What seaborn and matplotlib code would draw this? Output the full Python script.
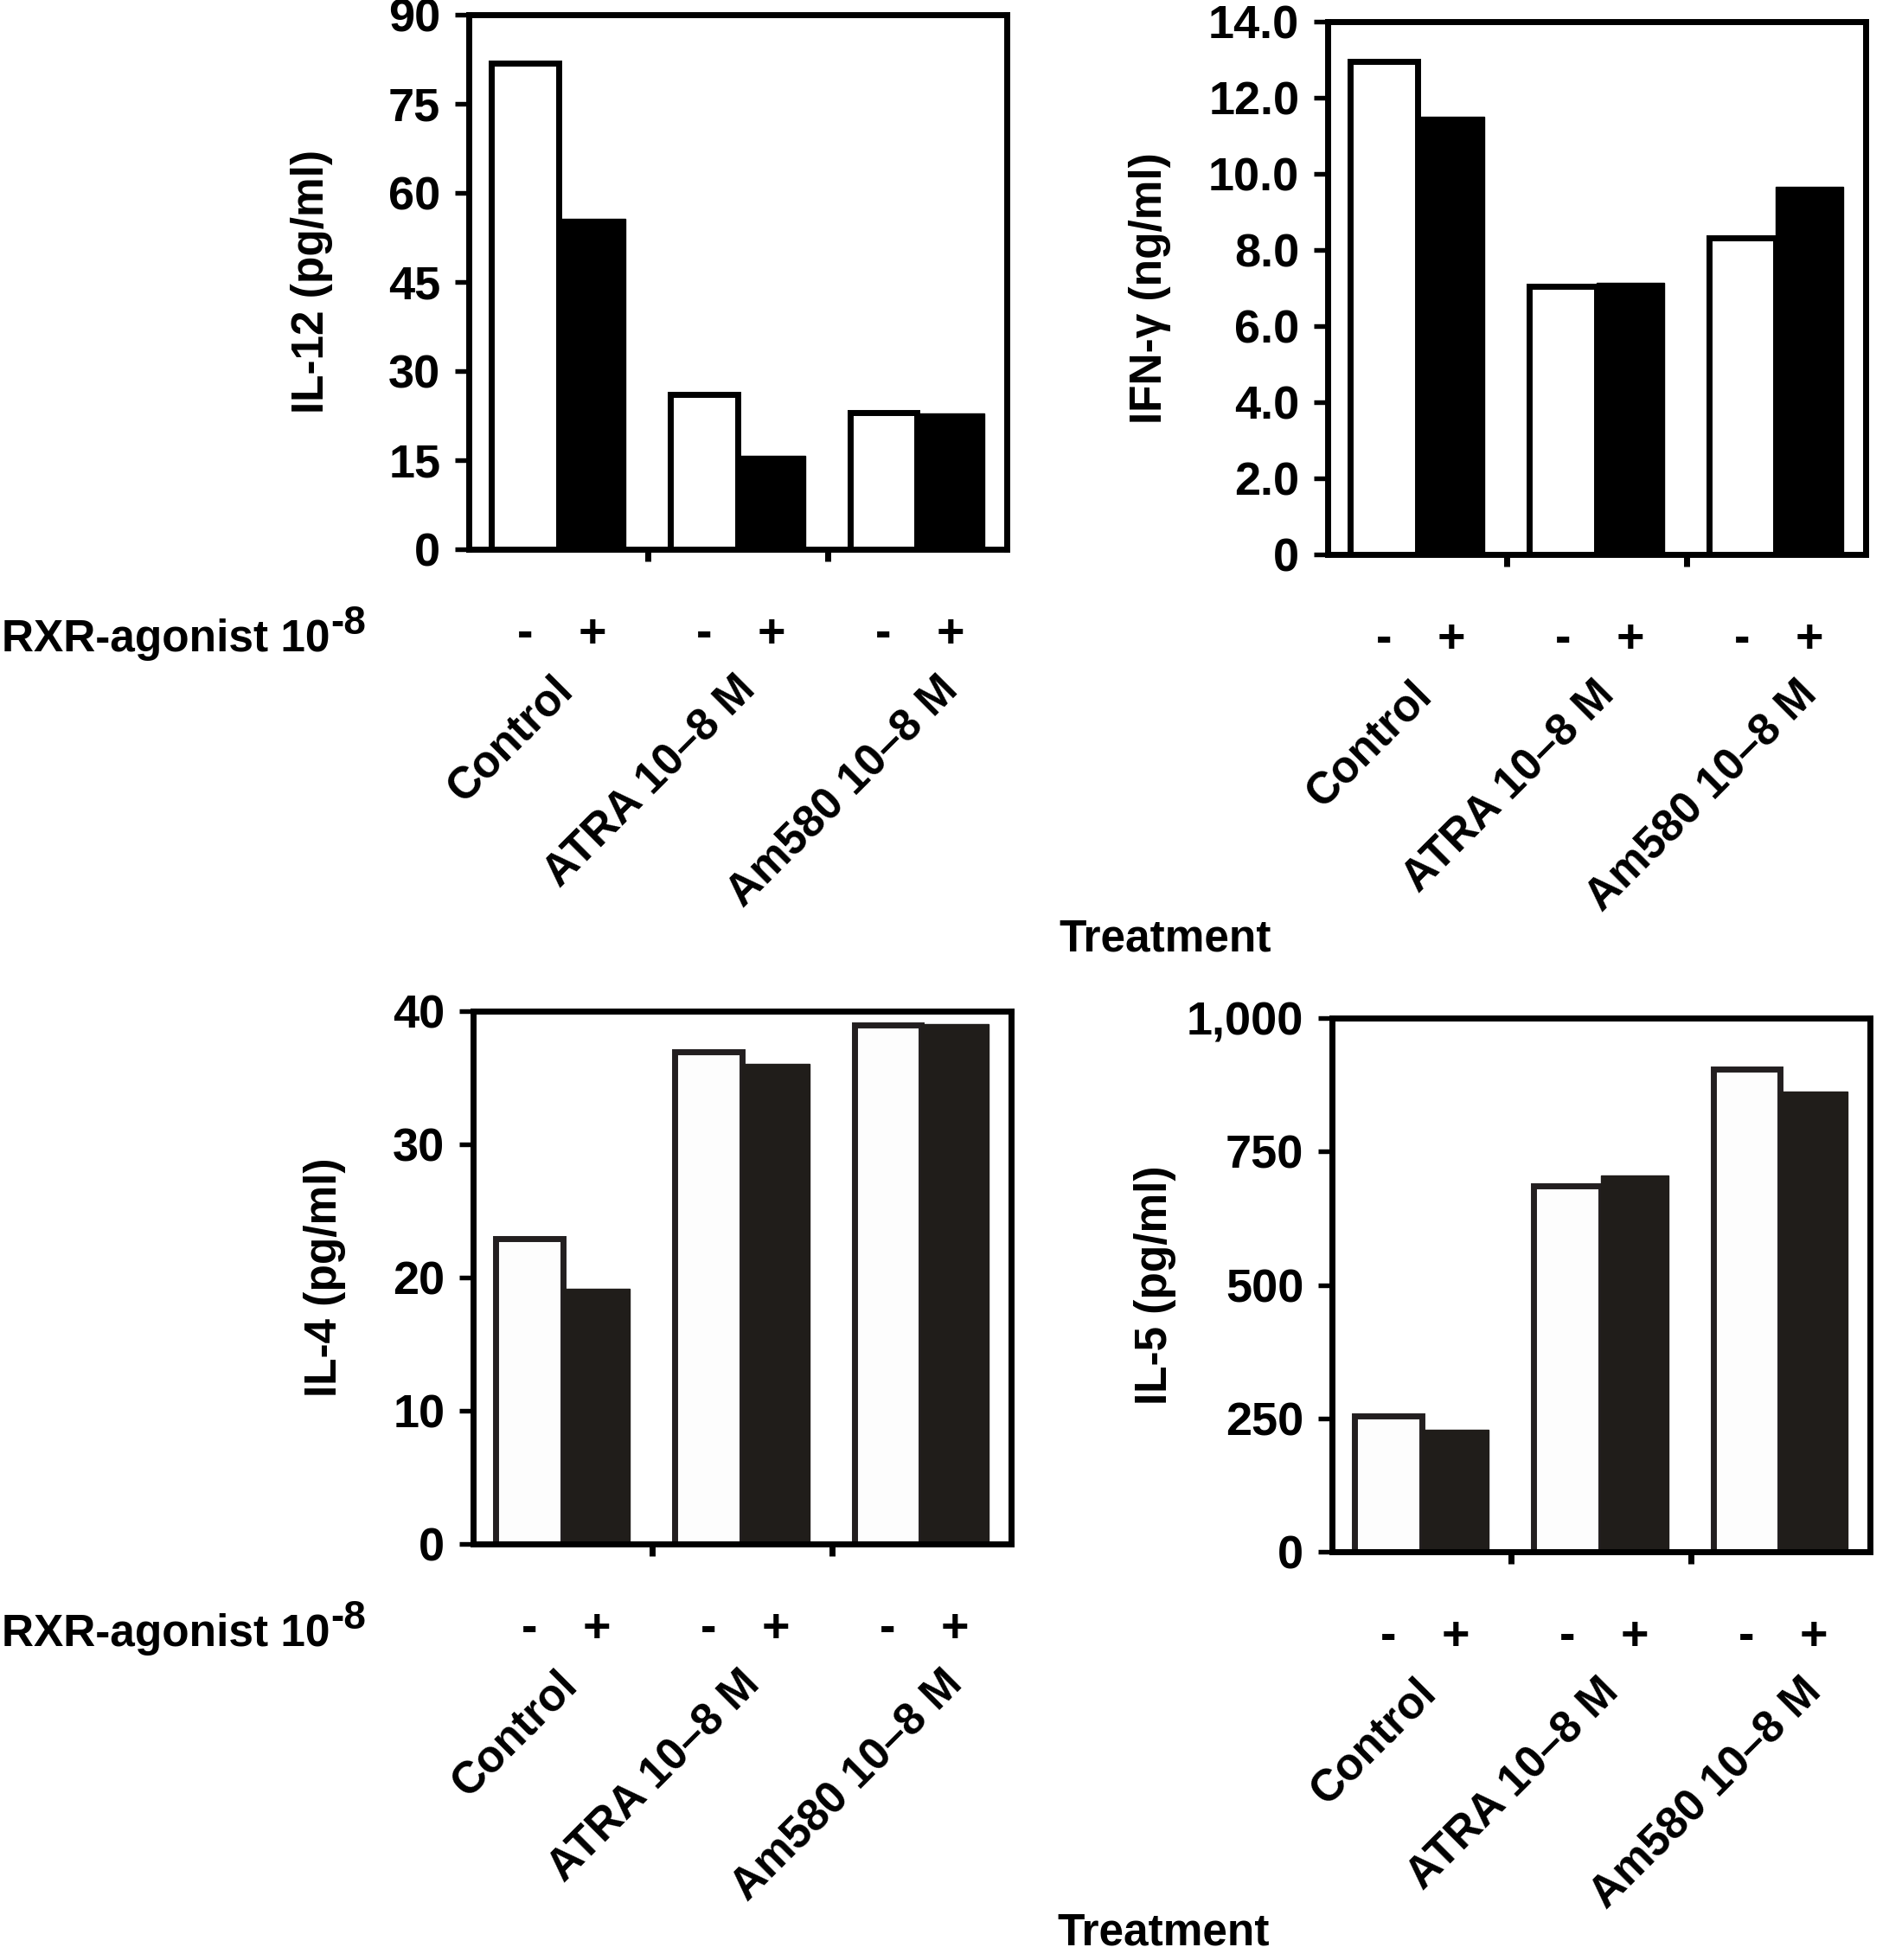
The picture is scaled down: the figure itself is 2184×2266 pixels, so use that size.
import matplotlib
matplotlib.use("Agg")
import pandas as pd
import matplotlib.pyplot as plt
import matplotlib.transforms as mtransforms
import seaborn as sns

# --- DATA ---
TREATMENTS = ["Control", "ATRA 10–8 M", "Am580 10–8 M"]
RXR = ["-", "+"]

IL12_MINUS = [81.8, 26.1, 23.0]
IL12_PLUS = [55.7, 15.7, 22.8]
IL12_TICKS = [0, 15, 30, 45, 60, 75, 90]
IL12_TICKLABELS = ["0", "15", "30", "45", "60", "75", "90"]

IFN_MINUS = [12.95, 7.05, 8.31]
IFN_PLUS = [11.5, 7.13, 9.66]
IFN_TICKS = [0, 2, 4, 6, 8, 10, 12, 14]
IFN_TICKLABELS = ["0", "2.0", "4.0", "6.0", "8.0", "10.0", "12.0", "14.0"]

IL4_MINUS = [22.95, 36.98, 38.97]
IL4_PLUS = [19.16, 36.03, 39.03]
IL4_TICKS = [0, 10, 20, 30, 40]
IL4_TICKLABELS = ["0", "10", "20", "30", "40"]

IL5_MINUS = [255, 686, 905]
IL5_PLUS = [228, 705, 862]
IL5_TICKS = [0, 250, 500, 750, 1000]
IL5_TICKLABELS = ["0", "250", "500", "750", "1,000"]

# --- STYLE / LAYOUT ---
W, H, DPI = 2184, 2266, 100
TICK_FS = 39
LABEL_FS = 37
SIGN_FS = 40
CAT_OFFSETS = [0.09, 0.11, 0.24]

sns.set_style("ticks", {"axes.edgecolor": "black", "xtick.color": "black",
                        "ytick.color": "black", "text.color": "black",
                        "axes.labelcolor": "black"})
plt.rcParams['font.family'] = ['Liberation Sans', 'DejaVu Sans']
plt.rcParams['font.weight'] = 'bold'


def px_rect(left, right, top, bottom):
    return [left / W, 1 - bottom / H, (right - left) / W, (bottom - top) / H]


PANELS = [
    dict(rect=px_rect(542, 1164, 17, 635), minus=IL12_MINUS, plus=IL12_PLUS,
         ticks=IL12_TICKS, ticklabels=IL12_TICKLABELS, ylabel="IL-12 (pg/ml)",
         label_x=-0.252, light="#ffffff", light_edge="#000000", dark="#000000"),
    dict(rect=px_rect(1535, 2157, 25, 641), minus=IFN_MINUS, plus=IFN_PLUS,
         ticks=IFN_TICKS, ticklabels=IFN_TICKLABELS, ylabel="IFN-γ (ng/ml)",
         label_x=-0.291, light="#ffffff", light_edge="#000000", dark="#000000"),
    dict(rect=px_rect(547, 1169, 1169, 1785), minus=IL4_MINUS, plus=IL4_PLUS,
         ticks=IL4_TICKS, ticklabels=IL4_TICKLABELS, ylabel="IL-4 (pg/ml)",
         label_x=-0.236, light="#fdfdfd", light_edge="#231f20", dark="#201d1a"),
    dict(rect=px_rect(1540, 2162, 1177, 1794), minus=IL5_MINUS, plus=IL5_PLUS,
         ticks=IL5_TICKS, ticklabels=IL5_TICKLABELS, ylabel="IL-5 (pg/ml)",
         label_x=-0.289, light="#fdfdfd", light_edge="#231f20", dark="#201d1a"),
]


def draw_panel(fig, p):
    ax = fig.add_axes(p["rect"])
    df = pd.DataFrame({
        "treatment": TREATMENTS * 2,
        "rxr": [RXR[0]] * 3 + [RXR[1]] * 3,
        "value": p["minus"] + p["plus"],
    })
    sns.barplot(data=df, x="treatment", y="value", hue="rxr",
                order=TREATMENTS, hue_order=RXR,
                palette=[p["light"], p["dark"]], saturation=1,
                width=0.75, errorbar=None, legend=False, ax=ax)
    for bar in ax.containers[0]:
        bar.set_edgecolor(p["light_edge"])
        bar.set_linewidth(5)
    for bar in ax.containers[1]:
        bar.set_edgecolor(p["dark"])
        bar.set_linewidth(1)

    ax.set_xlim(-0.5, 2.5)
    ax.set_ylim(p["ticks"][0], p["ticks"][-1])
    ax.set_xticks([0.5, 1.5])
    ax.set_xticklabels(["", ""])
    ax.set_yticks(p["ticks"])
    ax.set_yticklabels(p["ticklabels"], fontsize=TICK_FS, fontweight="bold")
    ax.tick_params(axis="y", length=11.5, width=3.9, pad=12, direction="out")
    ax.tick_params(axis="x", length=10, width=5, direction="out")
    for s in ax.spines.values():
        s.set_visible(True)
        s.set_linewidth(5)
        s.set_color("black")
    ax.set_xlabel("")
    ax.set_ylabel(p["ylabel"], fontsize=LABEL_FS, fontweight="bold")
    ax.yaxis.set_label_coords(p["label_x"], 0.5)

    trans = mtransforms.blended_transform_factory(ax.transData, ax.transAxes)
    # -/+ signs under each bar
    for sign, cont in zip(RXR, ax.containers):
        for bar in cont:
            cx = bar.get_x() + bar.get_width() / 2
            ax.text(cx, -0.16, sign, transform=trans, ha="center", va="center",
                    fontsize=SIGN_FS, fontweight="bold")
    # rotated treatment names
    for i, name in enumerate(TREATMENTS):
        ax.text(i + CAT_OFFSETS[i], -0.267, name, transform=trans, rotation=45,
                rotation_mode="anchor", ha="right", va="baseline",
                fontsize=LABEL_FS, fontweight="bold")
    return ax


fig = plt.figure(figsize=(W / DPI, H / DPI), dpi=DPI)
for p in PANELS:
    draw_panel(fig, p)

# row labels with a raised "–8" and the axis titles
renderer = fig.canvas.get_renderer()
for y in [753, 1903]:
    main = fig.text(2 / W, 1 - y / H, "RXR-agonist 10", ha="left",
                    va="baseline", fontsize=37, fontweight="bold")
    ext = main.get_window_extent(renderer)
    fig.text((ext.x1 + 1) / W, 1 - (y - 20) / H, "-8", ha="left",
             va="baseline", fontsize=33, fontweight="bold")
for x, y in [(1347, 1086), (1345, 2235)]:
    fig.text(x / W, 1 - y / H, "Treatment", ha="center", va="center",
             fontsize=LABEL_FS, fontweight="bold")

fig.savefig("out.png", dpi=DPI)
plt.close(fig)
